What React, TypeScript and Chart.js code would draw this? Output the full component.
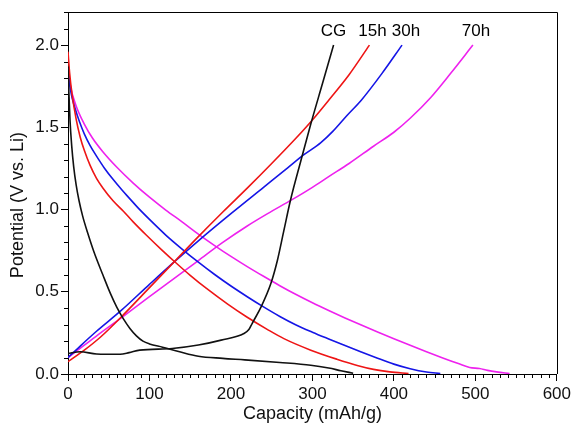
import { useEffect, useRef } from "react";
import { Chart, registerables } from "chart.js";

Chart.register(...registerables);

// ---- data (capacity in mAh/g, potential in V vs. Li) ----
const curveLabels = ["CG", "15h", "30h", "70h"];

const cgDisCap = [0, 1, 2.5, 4.5, 7, 10, 13.5, 18, 24, 32, 43, 52, 60, 68, 76, 84, 92, 100, 116, 137, 160, 190, 217, 260, 298, 320, 335, 350];
const cgDisV = [1.87, 1.72, 1.54, 1.39, 1.26, 1.15, 1.055, 0.96, 0.86, 0.74, 0.6, 0.49, 0.405, 0.335, 0.277, 0.232, 0.2, 0.183, 0.163, 0.135, 0.108, 0.095, 0.086, 0.07, 0.053, 0.036, 0.02, 0.005];
const cgChgCap = [0, 15, 35, 64, 75, 88, 128, 160, 188, 216, 222, 226, 237, 249, 257, 265, 273, 286, 298, 312, 326];
const cgChgV = [0.125, 0.135, 0.122, 0.12, 0.13, 0.145, 0.155, 0.176, 0.206, 0.246, 0.27, 0.307, 0.408, 0.55, 0.69, 0.873, 1.055, 1.3, 1.52, 1.76, 2.0];

const h15DisCap = [0, 2, 5, 10, 15, 20, 27, 35, 43, 55, 68, 80, 96, 115, 132, 150, 170, 196, 220, 245, 265, 298, 330, 355, 375, 395, 418];
const h15DisV = [1.96, 1.83, 1.7, 1.55, 1.44, 1.36, 1.27, 1.19, 1.13, 1.055, 0.99, 0.925, 0.845, 0.755, 0.678, 0.6, 0.52, 0.425, 0.345, 0.27, 0.215, 0.145, 0.09, 0.052, 0.028, 0.013, 0.003];
const h15ChgCap = [0, 20, 40, 65, 100, 130, 160, 190, 220, 250, 280, 300, 320, 345, 370];
const h15ChgV = [0.075, 0.145, 0.225, 0.345, 0.525, 0.68, 0.835, 0.985, 1.13, 1.28, 1.435, 1.545, 1.665, 1.82, 2.0];

const h30DisCap = [0, 2, 5, 9, 14, 20, 27, 35, 45, 55, 66, 76, 86, 100, 120, 140, 160, 180, 200, 220, 240, 260, 280, 300, 320, 340, 360, 380, 400, 420, 440, 457];
const h30DisV = [1.85, 1.76, 1.68, 1.61, 1.535, 1.46, 1.39, 1.325, 1.25, 1.185, 1.12, 1.065, 1.01, 0.94, 0.845, 0.76, 0.68, 0.605, 0.535, 0.47, 0.408, 0.35, 0.298, 0.254, 0.213, 0.173, 0.134, 0.096, 0.06, 0.032, 0.012, 0.003];
const h30ChgCap = [0, 15, 35, 65, 100, 130, 160, 200, 240, 270, 290, 310, 325, 343, 360, 385, 410];
const h30ChgV = [0.1, 0.17, 0.26, 0.385, 0.545, 0.68, 0.81, 0.975, 1.135, 1.255, 1.335, 1.405, 1.475, 1.575, 1.665, 1.825, 2.0];

const h70DisCap = [0, 3, 10, 20, 30, 43, 60, 80, 100, 120, 140, 160, 180, 200, 220, 240, 260, 280, 300, 320, 340, 360, 380, 400, 420, 440, 460, 480, 493, 505, 515, 526, 542];
const h70DisV = [1.86, 1.75, 1.63, 1.52, 1.435, 1.35, 1.257, 1.161, 1.075, 0.997, 0.925, 0.851, 0.781, 0.715, 0.653, 0.594, 0.537, 0.483, 0.433, 0.386, 0.341, 0.298, 0.256, 0.215, 0.175, 0.136, 0.098, 0.062, 0.04, 0.033, 0.022, 0.013, 0.003];
const h70ChgCap = [0, 20, 40, 65, 100, 130, 160, 190, 220, 245, 275, 300, 320, 345, 375, 400, 420, 445, 470, 497];
const h70ChgV = [0.1, 0.175, 0.25, 0.34, 0.47, 0.58, 0.69, 0.8, 0.9, 0.975, 1.06, 1.135, 1.2, 1.28, 1.385, 1.47, 1.555, 1.68, 1.83, 2.0];

const xTitle = "Capacity (mAh/g)";
const yTitle = "Potential (V vs. Li)";

const FONT = "'Liberation Sans', Arial, sans-serif";
const colors = ["#111111", "#ee1515", "#1515e6", "#ee22ee"];

function pts(xs: number[], ys: number[]) {
  return xs.map((x, i) => ({ x, y: ys[i] }));
}

export default function App() {
  const ref = useRef<HTMLCanvasElement>(null);

  useEffect(() => {
    document.body.style.margin = "0";
    const canvas = ref.current!;
    const curves = [
      [cgDisCap, cgDisV, cgChgCap, cgChgV],
      [h15DisCap, h15DisV, h15ChgCap, h15ChgV],
      [h30DisCap, h30DisV, h30ChgCap, h30ChgV],
      [h70DisCap, h70DisV, h70ChgCap, h70ChgV],
    ];
    const datasets: any[] = [];
    curves.forEach((c, i) => {
      [pts(c[0], c[1]), pts(c[2], c[3])].forEach((d, j) => {
        datasets.push({
          label: curveLabels[i] + (j ? " charge" : " discharge"),
          data: d,
          borderColor: colors[i],
          backgroundColor: colors[i],
          borderWidth: 1.6,
          pointRadius: 0,
          fill: false,
          tension: 0.3,
          cubicInterpolationMode: "monotone",
        });
      });
    });

    const labelShift = [0, 3, 4, 3];

    const extras = {
      id: "extras",
      afterDraw(chart: any) {
        const { ctx, chartArea, scales } = chart;
        const xs = scales.x;
        const ys = scales.y;
        ctx.save();
        ctx.strokeStyle = "#000";
        ctx.lineWidth = 1;
        // frame top & right
        ctx.beginPath();
        ctx.moveTo(Math.round(chartArea.left), Math.round(chartArea.top) + 0.5);
        ctx.lineTo(Math.round(chartArea.right) + 0.5, Math.round(chartArea.top) + 0.5);
        ctx.lineTo(Math.round(chartArea.right) + 0.5, Math.round(chartArea.bottom));
        ctx.stroke();
        // minor ticks
        ctx.beginPath();
        for (let v = 0; v <= 600; v += 10) {
          if (v % 100 === 0) continue;
          const p = Math.round(xs.getPixelForValue(v)) + 0.5;
          ctx.moveTo(p, chartArea.bottom);
          ctx.lineTo(p, chartArea.bottom + 4);
        }
        for (let i = 0; i <= 22; i++) {
          if (i % 5 === 0) continue;
          const p = Math.round(ys.getPixelForValue(i / 10)) + 0.5;
          ctx.moveTo(chartArea.left, p);
          ctx.lineTo(chartArea.left - 4, p);
        }
        ctx.stroke();
        // curve labels above charge end points
        ctx.fillStyle = "#000";
        ctx.font = `17px ${FONT}`;
        ctx.textAlign = "center";
        ctx.textBaseline = "middle";
        curves.forEach((c, i) => {
          const cx = c[2][c[2].length - 1];
          const cy = c[3][c[3].length - 1];
          ctx.fillText(curveLabels[i], xs.getPixelForValue(cx) + labelShift[i], ys.getPixelForValue(cy) - 14);
        });
        // y-axis title (sits slightly below the axis centre in the reference)
        ctx.fillStyle = "#111";
        ctx.font = `18px ${FONT}`;
        ctx.translate(18.5, (chartArea.top + chartArea.bottom) / 2 + 12);
        ctx.rotate(-Math.PI / 2);
        ctx.fillText(yTitle, 0, 0);
        ctx.restore();
      },
    };

    const tickFont = { family: FONT, size: 17 };
    const chart = new Chart(canvas, {
      type: "line",
      data: { datasets },
      options: {
        animation: false,
        responsive: false,
        events: [],
        layout: { padding: { top: 11, right: 13, left: 0, bottom: 0 } },
        plugins: { legend: { display: false }, tooltip: { enabled: false } },
        scales: {
          x: {
            type: "linear",
            min: 0,
            max: 600,
            afterFit: (s: any) => {
              s.height = 49;
            },
            ticks: { stepSize: 100, padding: 3, font: tickFont, color: "#111", includeBounds: false, maxRotation: 0 },
            grid: { drawOnChartArea: false, drawTicks: true, tickLength: 7, color: "#000" },
            border: { display: true, color: "#000", width: 1 },
            title: { display: true, text: xTitle, color: "#111", font: { family: FONT, size: 18, lineHeight: 1 }, padding: { top: 0, bottom: 0 } },
          },
          y: {
            type: "linear",
            min: 0,
            max: 2.2,
            afterFit: (s: any) => {
              s.width = 68;
            },
            ticks: {
              stepSize: 0.5,
              padding: 2,
              font: tickFont,
              color: "#111",
              includeBounds: false,
              callback: (v: any) => Number(v).toFixed(1),
            },
            grid: { drawOnChartArea: false, drawTicks: true, tickLength: 7, color: "#000" },
            border: { display: true, color: "#000", width: 1 },
            title: { display: false },
          },
        },
      } as any,
      plugins: [extras],
    });
    return () => chart.destroy();
  }, []);

  return <canvas ref={ref} width={574} height={423} style={{ display: "block" }} />;
}
